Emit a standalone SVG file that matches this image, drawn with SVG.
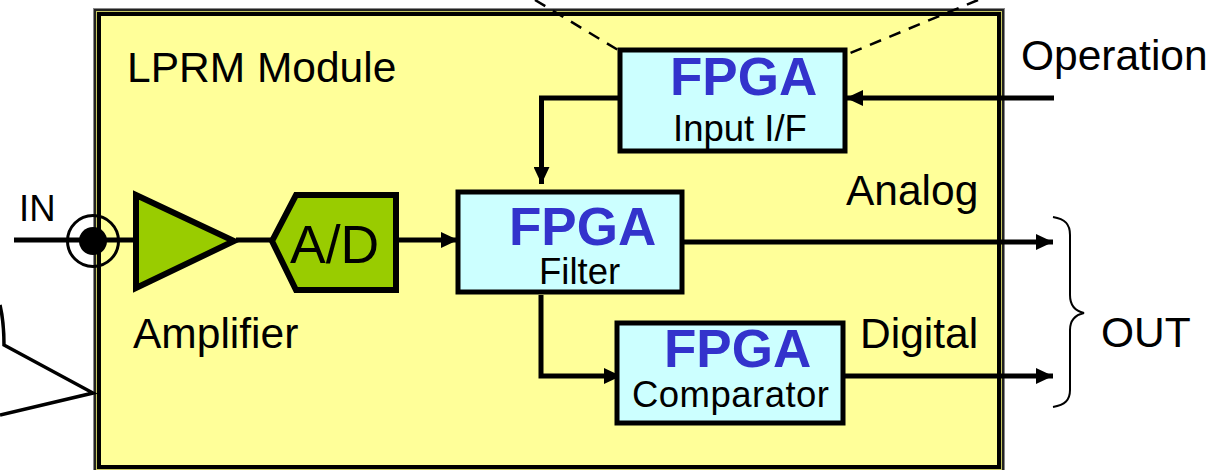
<svg xmlns="http://www.w3.org/2000/svg" width="1224" height="470" viewBox="0 0 1224 470">
<defs>
<marker id="ah" markerUnits="userSpaceOnUse" markerWidth="17" markerHeight="16" refX="17" refY="8" orient="auto"><path d="M0,0L17,8L0,16Z" fill="#000"/></marker>
</defs>
<style>
text{font-family:"Liberation Sans",Arial,sans-serif;fill:#000}
.l{font-size:42.5px}
.f{font-size:53px;font-weight:bold;fill:#3333cc}
.s{font-size:36.500px}
.c{fill:none;stroke:#000;stroke-width:5}
.b{fill:#ccffff;stroke:#000;stroke-width:5}
.g{fill:#99cc00;stroke:#000;stroke-width:6}
</style>
<rect width="1224" height="470" fill="#fff"/>
<g id="module">
<rect x="93.500" y="8.500" width="911" height="470" fill="#ffff99" stroke="#888" stroke-width="1"/>
<rect x="95" y="10" width="908" height="470" fill="none" stroke="#222" stroke-width="2"/>
<rect x="97" y="12" width="904" height="458" fill="none" stroke="#c8c860" stroke-width="2"/>
<rect x="99" y="14" width="900" height="453" fill="#ffff99" stroke="#000" stroke-width="4"/>
<text class="l" x="127" y="82">LPRM Module</text>
</g>
<g id="connectors">
<path d="M535,0L618,50M978,0L848,54" fill="none" stroke="#000" stroke-width="2.500" stroke-dasharray="12 9"/>
<path class="c" d="M14,240H135"/>
<path class="c" d="M236,240H272"/>
<path class="c" d="M396,240H458" marker-end="url(#ah)"/>
<path class="c" d="M620,98H541.500V184" marker-end="url(#ah)"/>
<path class="c" d="M1054,98H846" marker-end="url(#ah)"/>
<path class="c" d="M683,242H1053" marker-end="url(#ah)"/>
<path class="c" d="M541,295V376H621" marker-end="url(#ah)"/>
<path class="c" d="M843,376H1053" marker-end="url(#ah)"/>
<path d="M0,305C3,318 4,335 4,345L93,393L0,415" fill="none" stroke="#000" stroke-width="3.500"/>
</g>
<g id="connector-in">
<circle cx="93" cy="241" r="25.500" fill="none" stroke="#000" stroke-width="3"/>
<circle cx="93" cy="241" r="14" fill="#000"/>
<text class="s" x="19" y="221">IN</text>
</g>
<g id="amplifier">
<path class="g" d="M136,195L234,241L136,288Z"/>
<text class="l" x="133" y="348">Amplifier</text>
</g>
<g id="adc">
<path class="g" d="M296,195H396V290H296L272,241Z"/>
<text x="290" y="263" font-size="53.500">A/D</text>
</g>
<g id="fpga-input">
<rect class="b" x="620" y="50" width="225" height="101"/>
<text class="f" x="670" y="95">FPGA</text>
<text class="s" x="673" y="141">Input I/F</text>
</g>
<g id="fpga-filter">
<rect class="b" x="458" y="192" width="224" height="100"/>
<text class="f" x="509" y="245">FPGA</text>
<text class="s" x="539" y="284">Filter</text>
</g>
<g id="fpga-comparator">
<rect class="b" x="617" y="323" width="226" height="100"/>
<text class="f" x="664" y="367">FPGA</text>
<text class="s" x="632" y="407" textLength="197">Comparator</text>
</g>
<g id="labels">
<text class="l" x="846" y="205">Analog</text>
<text class="l" x="860" y="348">Digital</text>
<text class="l" x="1021" y="70">Operation</text>
</g>
<g id="out">
<path d="M1053,217C1065,219 1070,224 1070,235V295C1070,305 1075,311 1084,313C1075,315 1070,321 1070,330V390C1070,400 1065,405 1053,407" fill="none" stroke="#000" stroke-width="2"/>
<text class="l" x="1101" y="347">OUT</text>
</g>
</svg>
